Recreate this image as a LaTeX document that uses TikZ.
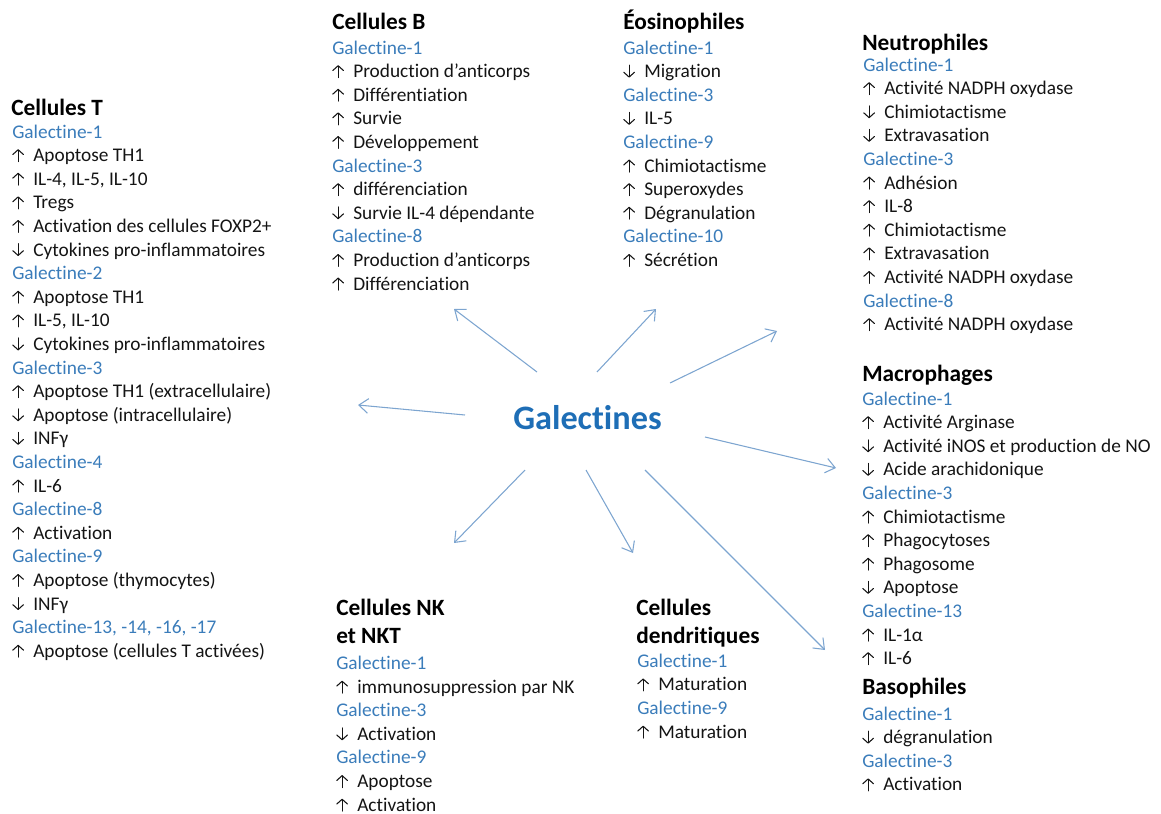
\documentclass[tikz,border=0pt]{standalone}
\usepackage{fontspec}
\setmainfont{Carlito}[Ligatures=NoCommon]
\usetikzlibrary{arrows.meta}
\definecolor{galblue}{RGB}{58,124,186}
\definecolor{titleblue}{RGB}{30,110,182}
\definecolor{arrblue}{RGB}{125,165,208}
\definecolor{txtcol}{RGB}{20,20,20}
\newcommand\gl[1]{\textcolor{galblue}{#1}}
\newcommand\up{\makebox[15.75pt][l]{\tikz[baseline=0pt]\draw[line width=0.8pt,line cap=round,-{Straight Barb[length=3.6pt,width=8pt,line cap=round,line join=round]}] (4pt,0pt) -- (4pt,9.3pt);}}
\newcommand\dn{\makebox[15.75pt][l]{\tikz[baseline=0pt]\draw[line width=0.8pt,line cap=round,-{Straight Barb[length=3.6pt,width=8pt,line cap=round,line join=round]}] (4pt,9.3pt) -- (4pt,0pt);}}
\newcommand\cellblock[4]{\foreach \itm [count=\i from 0] in {#4}{\node[txt] (#1-\i) at (#2,{#3+\i*23.6}) {\itm};}}
\tikzset{
  txt/.style={anchor=base west, inner sep=0pt, text=txtcol, font=\fontsize{14.5pt}{17.7pt}\selectfont},
  head/.style={anchor=base west, inner sep=0pt, font=\fontsize{17.5pt}{21pt}\selectfont\bfseries},
  link/.style={draw=arrblue, line width=0.8pt, -{Straight Barb[length=7pt,width=11pt]}}
}
\begin{document}
\begin{tikzpicture}[x=0.75pt,y=-0.75pt]
\useasboundingbox (0,0) rectangle (1161,814);
% title
\node[anchor=base, inner sep=0pt, text=titleblue, font=\fontsize{25.7pt}{30pt}\selectfont\bfseries] (gal) at (587.5,429) {Galectines};
% Cellules T
\node[head] (hT) at (11,115) {Cellules T};
\cellblock{T}{12}{138}{\gl{Galectine-1},\up Apoptose TH1,{\up IL-4, IL-5, IL-10},\up Tregs,\up Activation des cellules FOXP2+,\dn Cytokines pro-inflammatoires,\gl{Galectine-2},\up Apoptose TH1,{\up IL-5, IL-10},\dn Cytokines pro-inflammatoires,\gl{Galectine-3},\up Apoptose TH1 (extracellulaire),\dn Apoptose (intracellulaire),\dn INFγ,\gl{Galectine-4},\up IL-6,\gl{Galectine-8},\up Activation,\gl{Galectine-9},\up Apoptose (thymocytes),\dn INFγ,{\gl{Galectine-13, -14, -16, -17}},\up Apoptose (cellules T activées)}
% Cellules B
\node[head] (hB) at (332,29) {Cellules B};
\cellblock{B}{332}{54}{\gl{Galectine-1},\up Production d’anticorps,\up Différentiation,\up Survie,\up Développement,\gl{Galectine-3},\up différenciation,\dn Survie IL-4 dépendante,\gl{Galectine-8},\up Production d’anticorps,\up Différenciation}
% Eosinophiles
\node[head] (hE) at (623,29) {Éosinophiles};
\cellblock{E}{623}{54}{\gl{Galectine-1},\dn Migration,\gl{Galectine-3},\dn IL-5,\gl{Galectine-9},\up Chimiotactisme,\up Superoxydes,\up Dégranulation,\gl{Galectine-10},\up Sécrétion}
% Neutrophiles
\node[head] (hN) at (862,50) {Neutrophiles};
\cellblock{N}{863}{71}{\gl{Galectine-1},\up Activité NADPH oxydase,\dn Chimiotactisme,\dn Extravasation,\gl{Galectine-3},\up Adhésion,\up IL-8,\up Chimiotactisme,\up Extravasation,\up Activité NADPH oxydase,\gl{Galectine-8},\up Activité NADPH oxydase}
% Macrophages
\node[head] (hM) at (862,381) {Macrophages};
\cellblock{M}{862}{405}{\gl{Galectine-1},\up Activité Arginase,\dn Activité iNOS et production de NO,\dn Acide arachidonique,\gl{Galectine-3},\up Chimiotactisme,\up Phagocytoses,\up Phagosome,\dn Apoptose,\gl{Galectine-13},\up IL-1α,\up IL-6}
% Basophiles
\node[head] (hBa) at (862,694) {Basophiles};
\cellblock{Ba}{862}{720}{\gl{Galectine-1},\dn dégranulation,\gl{Galectine-3},\up Activation}
% NK
\node[head] (hNK) at (336,615) {Cellules NK};
\node[head] (hNK2) at (336,643.3) {et NKT};
\cellblock{NK}{336}{669.5}{\gl{Galectine-1},\up immunosuppression par NK,\gl{Galectine-3},\dn Activation,\gl{Galectine-9},\up Apoptose,\up Activation}
% Dendritiques
\node[head] (hD) at (636,615) {Cellules};
\node[head] (hD2) at (636,643.3) {dendritiques};
\cellblock{D}{637}{667.3}{\gl{Galectine-1},\up Maturation,\gl{Galectine-9},\up Maturation}
% connectors
\coordinate (sB) at (537,372);  \coordinate (eB) at (454,309);
\coordinate (sE) at (597,372);  \coordinate (eE) at (656,309);
\coordinate (sN) at (670,383);  \coordinate (eN) at (777,331);
\coordinate (sT) at (465,415);  \coordinate (eT) at (358,405);
\coordinate (sM) at (705,437);  \coordinate (eM) at (836,468);
\coordinate (sNK) at (525,470); \coordinate (eNK) at (454,543);
\coordinate (sD) at (586,470);  \coordinate (eD) at (633,553);
\coordinate (sBa) at (645,470); \coordinate (eBa) at (825,650);
\foreach \a in {B,E,N,T,M,NK,D,Ba}{\draw[link] (s\a) -- (e\a);}
\end{tikzpicture}
\end{document}
